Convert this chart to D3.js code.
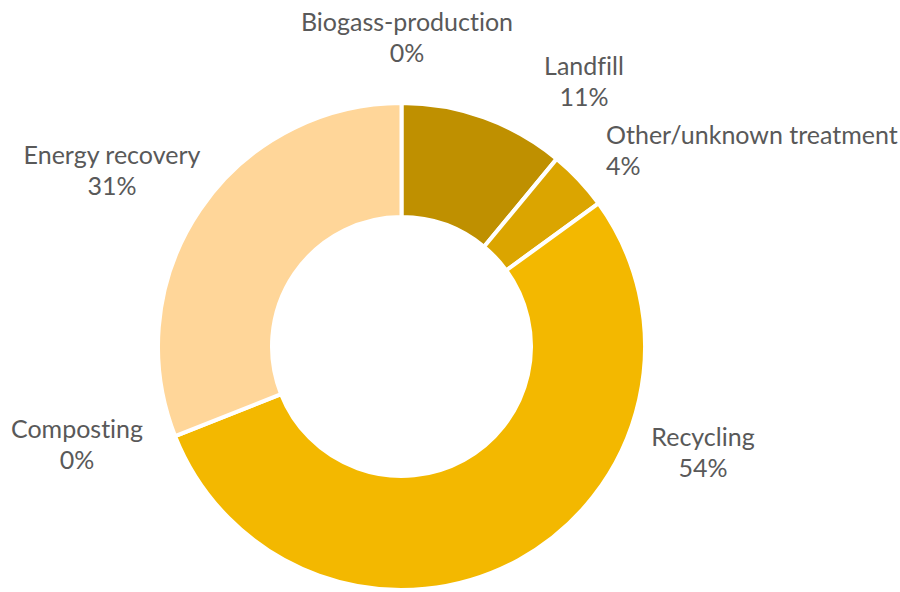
<!DOCTYPE html>
<html>
<head>
<meta charset="utf-8">
<script src="https://cdn.jsdelivr.net/npm/d3@7/dist/d3.min.js"></script>
<style>
  html, body { margin: 0; padding: 0; background: #fff; }
  svg text { font-family: Lato, "Open Sans", sans-serif; fill: #595959; font-variant-ligatures: none; }
</style>
</head>
<body>
<svg id="chart" width="900" height="592"></svg>
<script>
// Waste treatment shares (percent), in drawing order clockwise from 12 o'clock
const categories = ["Biogass-production", "Landfill", "Other/unknown treatment", "Recycling", "Composting", "Energy recovery"];
const shares = [0, 11, 4, 54, 0, 31];
const colors = ["#C99A00", "#BF9000", "#DBA500", "#F3B800", "#F3B800", "#FFD699"];

// Label block anchors (x, first baseline) and alignment for each category
const labelLayout = {
  "Biogass-production":      { x: 407, y: 31,  anchor: "middle" },
  "Landfill":                { x: 584, y: 75,  anchor: "middle" },
  "Other/unknown treatment": { x: 606, y: 144, anchor: "start" },
  "Recycling":               { x: 703, y: 446, anchor: "middle" },
  "Composting":              { x: 77,  y: 438, anchor: "middle" },
  "Energy recovery":         { x: 112, y: 164, anchor: "middle" }
};

const svg = d3.select("#chart");
const cx = 401.5, cy = 346.5;
const outerR = 243.5, innerR = 129.5;

const data = categories.map((c, i) => ({ name: c, value: shares[i], color: colors[i] }));

const pie = d3.pie().sort(null).value(d => d.value).startAngle(0).endAngle(2 * Math.PI);
const arc = d3.arc().innerRadius(innerR).outerRadius(outerR);

const g = svg.append("g").attr("transform", `translate(${cx},${cy})`);

g.selectAll("path")
  .data(pie(data).filter(d => d.data.value > 0))
  .join("path")
  .attr("d", arc)
  .attr("fill", d => d.data.color)
  .attr("stroke", "#fff")
  .attr("stroke-width", 4)
  .attr("stroke-linejoin", "miter");

// Data labels: category name and rounded percentage
const labels = svg.append("g").attr("font-size", 25);
data.forEach(d => {
  const p = labelLayout[d.name];
  const t = labels.append("text")
    .attr("x", p.x).attr("y", p.y)
    .attr("text-anchor", p.anchor);
  t.append("tspan").attr("x", p.x).attr("y", p.y).text(d.name);
  t.append("tspan").attr("x", p.x).attr("y", p.y + 31).text(Math.round(d.value) + "%");
});
</script>
</body>
</html>
